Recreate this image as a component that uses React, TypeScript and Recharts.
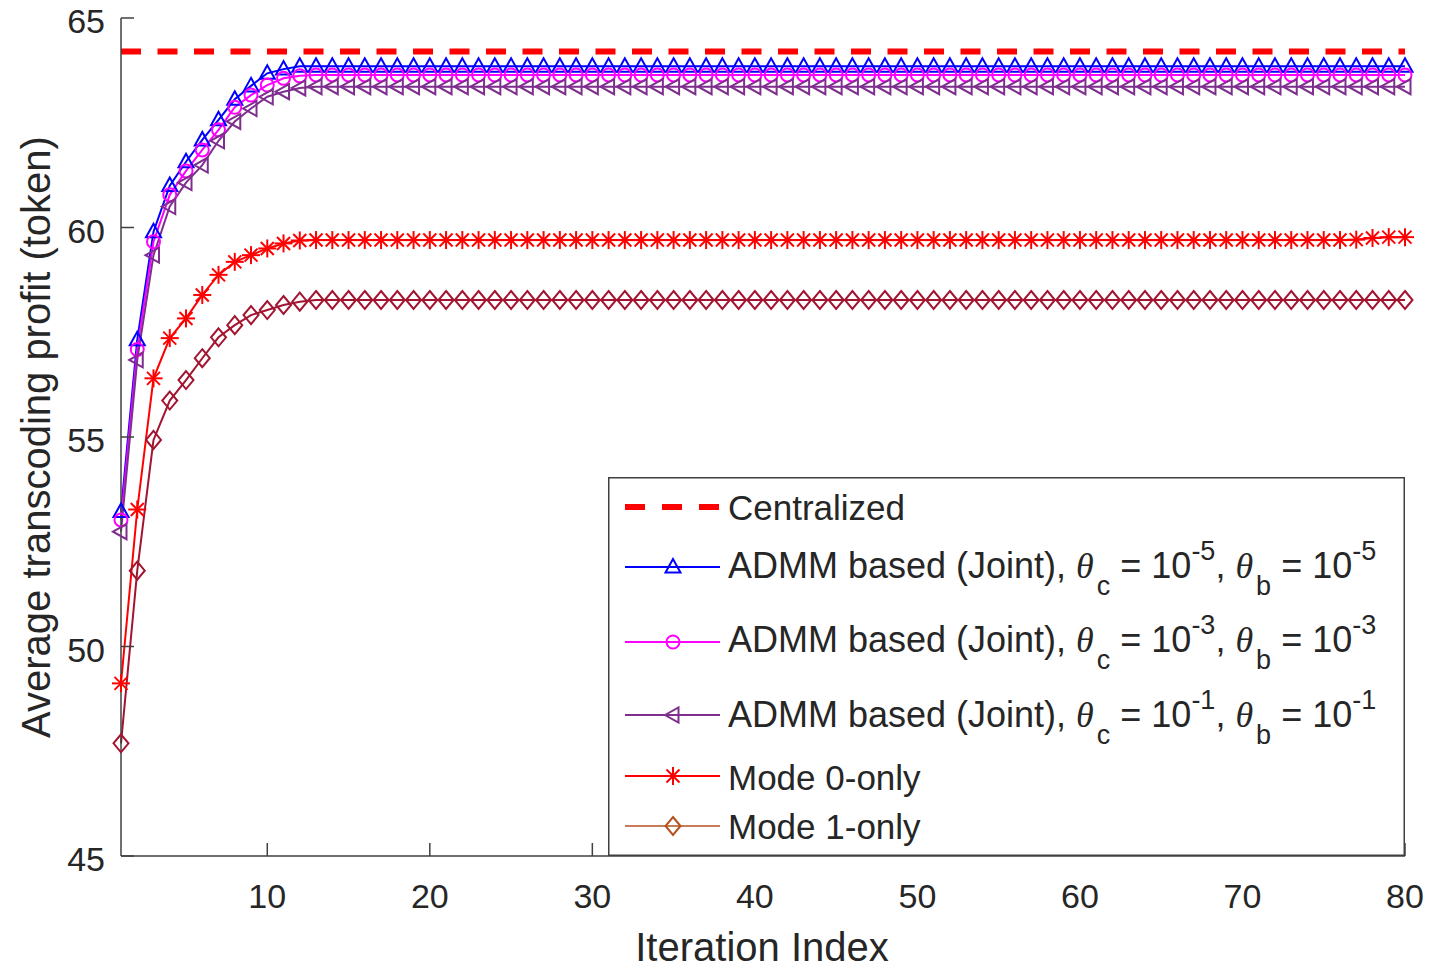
import React from 'react'
import { LineChart, Line, XAxis, YAxis, ReferenceLine, Legend } from 'recharts'

const iterations = [
  1, 2, 3, 4, 5, 6, 7, 8, 9, 10,
  11, 12, 13, 14, 15, 16, 17, 18, 19, 20,
  21, 22, 23, 24, 25, 26, 27, 28, 29, 30,
  31, 32, 33, 34, 35, 36, 37, 38, 39, 40,
  41, 42, 43, 44, 45, 46, 47, 48, 49, 50,
  51, 52, 53, 54, 55, 56, 57, 58, 59, 60,
  61, 62, 63, 64, 65, 66, 67, 68, 69, 70,
  71, 72, 73, 74, 75, 76, 77, 78, 79, 80,
]

const centralized = 64.2

const admm5 = [
  53.22, 57.32, 59.9, 61.0, 61.57, 62.09, 62.57, 63.06, 63.38, 63.68,
  63.78, 63.85, 63.85, 63.85, 63.85, 63.85, 63.85, 63.85, 63.85, 63.85,
  63.85, 63.85, 63.85, 63.85, 63.85, 63.85, 63.85, 63.85, 63.85, 63.85,
  63.85, 63.85, 63.85, 63.85, 63.85, 63.85, 63.85, 63.85, 63.85, 63.85,
  63.85, 63.85, 63.85, 63.85, 63.85, 63.85, 63.85, 63.85, 63.85, 63.85,
  63.85, 63.85, 63.85, 63.85, 63.85, 63.85, 63.85, 63.85, 63.85, 63.85,
  63.85, 63.85, 63.85, 63.85, 63.85, 63.85, 63.85, 63.85, 63.85, 63.85,
  63.85, 63.85, 63.85, 63.85, 63.85, 63.85, 63.85, 63.85, 63.85, 63.85,
]

const admm3 = [
  53.02, 57.09, 59.66, 60.78, 61.35, 61.85, 62.33, 62.87, 63.16, 63.4,
  63.56, 63.62, 63.64, 63.64, 63.64, 63.64, 63.64, 63.64, 63.64, 63.64,
  63.64, 63.64, 63.64, 63.64, 63.64, 63.64, 63.64, 63.64, 63.64, 63.64,
  63.64, 63.64, 63.64, 63.64, 63.64, 63.64, 63.64, 63.64, 63.64, 63.64,
  63.64, 63.64, 63.64, 63.64, 63.64, 63.64, 63.64, 63.64, 63.64, 63.64,
  63.64, 63.64, 63.64, 63.64, 63.64, 63.64, 63.64, 63.64, 63.64, 63.64,
  63.64, 63.64, 63.64, 63.64, 63.64, 63.64, 63.64, 63.64, 63.64, 63.64,
  63.64, 63.64, 63.64, 63.64, 63.64, 63.64, 63.64, 63.64, 63.64, 63.64,
]

const admm1 = [
  52.74, 56.84, 59.34, 60.5, 61.07, 61.49, 62.07, 62.53, 62.84, 63.12,
  63.24, 63.33, 63.36, 63.36, 63.36, 63.36, 63.36, 63.36, 63.36, 63.36,
  63.36, 63.36, 63.36, 63.36, 63.36, 63.36, 63.36, 63.36, 63.36, 63.36,
  63.36, 63.36, 63.36, 63.36, 63.36, 63.36, 63.36, 63.36, 63.36, 63.36,
  63.36, 63.36, 63.36, 63.36, 63.36, 63.36, 63.36, 63.36, 63.36, 63.36,
  63.36, 63.36, 63.36, 63.36, 63.36, 63.36, 63.36, 63.36, 63.36, 63.36,
  63.36, 63.36, 63.36, 63.36, 63.36, 63.36, 63.36, 63.36, 63.36, 63.36,
  63.36, 63.36, 63.36, 63.36, 63.36, 63.36, 63.36, 63.36, 63.36, 63.36,
]

const mode0 = [
  49.12, 53.27, 56.4, 57.36, 57.83, 58.39, 58.87, 59.18, 59.34, 59.5,
  59.62, 59.69, 59.7, 59.7, 59.7, 59.7, 59.7, 59.7, 59.7, 59.7,
  59.7, 59.7, 59.7, 59.7, 59.7, 59.7, 59.7, 59.7, 59.7, 59.7,
  59.7, 59.7, 59.7, 59.7, 59.7, 59.7, 59.7, 59.7, 59.7, 59.7,
  59.7, 59.7, 59.7, 59.7, 59.7, 59.7, 59.7, 59.7, 59.7, 59.7,
  59.7, 59.7, 59.7, 59.7, 59.7, 59.7, 59.7, 59.7, 59.7, 59.7,
  59.7, 59.7, 59.7, 59.7, 59.7, 59.7, 59.7, 59.7, 59.7, 59.7,
  59.7, 59.7, 59.7, 59.7, 59.7, 59.7, 59.71, 59.75, 59.77, 59.77,
]

const mode1 = [
  47.69, 51.81, 54.93, 55.87, 56.36, 56.88, 57.38, 57.67, 57.91, 58.03,
  58.15, 58.23, 58.27, 58.27, 58.27, 58.27, 58.27, 58.27, 58.27, 58.27,
  58.27, 58.27, 58.27, 58.27, 58.27, 58.27, 58.27, 58.27, 58.27, 58.27,
  58.27, 58.27, 58.27, 58.27, 58.27, 58.27, 58.27, 58.27, 58.27, 58.27,
  58.27, 58.27, 58.27, 58.27, 58.27, 58.27, 58.27, 58.27, 58.27, 58.27,
  58.27, 58.27, 58.27, 58.27, 58.27, 58.27, 58.27, 58.27, 58.27, 58.27,
  58.27, 58.27, 58.27, 58.27, 58.27, 58.27, 58.27, 58.27, 58.27, 58.27,
  58.27, 58.27, 58.27, 58.27, 58.27, 58.27, 58.27, 58.27, 58.27, 58.27,
]

const xTicks = [10, 20, 30, 40, 50, 60, 70, 80]
const yTicks = [45, 50, 55, 60, 65]

const data = iterations.map((it, i) => ({
  it,
  admm5: admm5[i],
  admm3: admm3[i],
  admm1: admm1[i],
  mode0: mode0[i],
  mode1: mode1[i],
}))

const FONT = '"Liberation Sans", Arial, Helvetica, sans-serif'
const INK = '#262626'
const AXIS = '#404040'

const BLUE = '#0000FF'
const MAGENTA = '#FF00FF'
const PURPLE = '#7E2F8E'
const RED = '#FF0000'
const CRIMSON = '#A2142F'
const BROWN = '#B5501F'

// marker shapes, MATLAB style
function triUp(cx: number, cy: number, color: string, key?: any) {
  return (
    <polygon key={key} points={`${cx},${cy - 8} ${cx - 7.5},${cy + 5.5} ${cx + 7.5},${cy + 5.5}`}
      fill="none" stroke={color} strokeWidth={2} />
  )
}
function circ(cx: number, cy: number, color: string, key?: any) {
  return <circle key={key} cx={cx} cy={cy} r={6.5} fill="none" stroke={color} strokeWidth={2} />
}
function triLeft(cx: number, cy: number, color: string, key?: any) {
  return (
    <polygon key={key} points={`${cx - 8},${cy} ${cx + 5.5},${cy - 7.5} ${cx + 5.5},${cy + 7.5}`}
      fill="none" stroke={color} strokeWidth={2} />
  )
}
function star(cx: number, cy: number, color: string, key?: any) {
  const r = 9
  const d = 6.5
  return (
    <g key={key} stroke={color} strokeWidth={2}>
      <line x1={cx} y1={cy - r} x2={cx} y2={cy + r} />
      <line x1={cx - r} y1={cy} x2={cx + r} y2={cy} />
      <line x1={cx - d} y1={cy - d} x2={cx + d} y2={cy + d} />
      <line x1={cx - d} y1={cy + d} x2={cx + d} y2={cy - d} />
    </g>
  )
}
function diamond(cx: number, cy: number, color: string, key?: any) {
  return (
    <polygon key={key} points={`${cx},${cy - 9} ${cx + 7.5},${cy} ${cx},${cy + 9} ${cx - 7.5},${cy}`}
      fill="none" stroke={color} strokeWidth={2} />
  )
}

const dotOf = (shape: typeof circ, color: string) => (props: any) => {
  const { cx, cy, index } = props
  if (cx == null || cy == null) return <g key={`e-${index}`} />
  return shape(cx, cy, color, `d-${index}`)
}

const noTick = () => <g />

function YLabel() {
  return (
    <text x={50} y={437} transform="rotate(-90, 50, 437)" textAnchor="middle"
      fontFamily={FONT} fontSize={40} fill={INK}>
      Average transcoding profit (token)
    </text>
  )
}

function XLabel() {
  return (
    <text x={762} y={961} textAnchor="middle" fontFamily={FONT} fontSize={40} fill={INK}>
      Iteration Index
    </text>
  )
}

function ThetaText({ x, y, exp }: { x: number; y: number; exp: string }) {
  return (
    <text x={x} y={y} fontFamily={FONT} fontSize={36} fill={INK}>
      <tspan>ADMM based (Joint), </tspan>
      <tspan fontFamily='"Liberation Serif", serif' fontStyle="italic">θ</tspan>
      <tspan fontSize={27} dy={17} dx={3}>c</tspan>
      <tspan dy={-17}> = 10</tspan>
      <tspan fontSize={27} dy={-18}>{exp}</tspan>
      <tspan dy={18}>, </tspan>
      <tspan fontFamily='"Liberation Serif", serif' fontStyle="italic">θ</tspan>
      <tspan fontSize={27} dy={17} dx={3}>b</tspan>
      <tspan dy={-17}> = 10</tspan>
      <tspan fontSize={27} dy={-18}>{exp}</tspan>
    </text>
  )
}

function LegendBox() {
  const x1 = 17
  const x2 = 112
  const mx = 65
  const tx = 120
  return (
    <svg width={797} height={379} style={{ display: 'block' }}>
      <rect x={0.75} y={0.75} width={795.5} height={377.5} fill="#fff" stroke={AXIS} strokeWidth={1.5} />
      <line x1={x1} y1={30} x2={x2} y2={30} stroke={RED} strokeWidth={6} strokeDasharray="20 17" />
      <text x={tx} y={43} fontFamily={FONT} fontSize={35} fill={INK}>Centralized</text>

      <line x1={x1} y1={90} x2={x2} y2={90} stroke={BLUE} strokeWidth={2} />
      {triUp(mx, 90, BLUE)}
      <ThetaText x={tx} y={101} exp="-5" />

      <line x1={x1} y1={165} x2={x2} y2={165} stroke={MAGENTA} strokeWidth={2} />
      {circ(mx, 165, MAGENTA)}
      <ThetaText x={tx} y={175} exp="-3" />

      <line x1={x1} y1={238} x2={x2} y2={238} stroke={PURPLE} strokeWidth={2} />
      {triLeft(mx, 238, PURPLE)}
      <ThetaText x={tx} y={250} exp="-1" />

      <line x1={x1} y1={299} x2={x2} y2={299} stroke={RED} strokeWidth={2} />
      {star(mx, 299, RED)}
      <text x={tx} y={313} fontFamily={FONT} fontSize={35} fill={INK}>Mode 0-only</text>

      <line x1={x1} y1={349} x2={x2} y2={349} stroke={BROWN} strokeWidth={1.5} />
      {diamond(mx, 349, BROWN)}
      <text x={tx} y={362} fontFamily={FONT} fontSize={35} fill={INK}>Mode 1-only</text>
    </svg>
  )
}

export default function App() {
  return (
    <div style={{ position: 'absolute', left: 0, top: 0, background: '#fff' }}>
      <LineChart width={1450} height={968} data={data}
        margin={{ top: 18, right: 45, left: 41, bottom: 52 }}>
        <XAxis dataKey="it" type="number" domain={[1, 80]} ticks={xTicks} interval={0}
          height={60} tickSize={-13} tickMargin={41}
          axisLine={{ stroke: AXIS, strokeWidth: 1.5 }} tickLine={{ stroke: AXIS, strokeWidth: 1.5 }}
          tick={{ fill: INK, fontSize: 34, fontFamily: FONT }} label={XLabel} />
        <XAxis xAxisId="top" orientation="top" dataKey="it" type="number" domain={[1, 80]}
          ticks={xTicks} interval={0} allowDataOverflow height={0} tickSize={-13}
          axisLine={{ stroke: AXIS, strokeWidth: 1.5 }} tickLine={{ stroke: AXIS, strokeWidth: 1.5 }}
          tick={noTick} />
        <YAxis type="number" domain={[45, 65]} ticks={yTicks} interval={0}
          width={80} tickSize={-13} tickMargin={29}
          axisLine={{ stroke: AXIS, strokeWidth: 1.5 }} tickLine={{ stroke: AXIS, strokeWidth: 1.5 }}
          tick={{ fill: INK, fontSize: 34, fontFamily: FONT, dy: 3 }} label={YLabel} />
        <YAxis yAxisId="right" orientation="right" type="number" domain={[45, 65]} ticks={yTicks}
          interval={0} allowDataOverflow width={0} tickSize={-13}
          axisLine={{ stroke: AXIS, strokeWidth: 1.5 }} tickLine={{ stroke: AXIS, strokeWidth: 1.5 }}
          tick={noTick} />

        <ReferenceLine y={centralized} stroke={RED} strokeWidth={6} strokeDasharray="20 16.5" />

        <Line dataKey="admm5" stroke={BLUE} strokeWidth={2} dot={dotOf(triUp, BLUE)}
          activeDot={false} isAnimationActive={false} />
        <Line dataKey="admm3" stroke={MAGENTA} strokeWidth={2} dot={dotOf(circ, MAGENTA)}
          activeDot={false} isAnimationActive={false} />
        <Line dataKey="admm1" stroke={PURPLE} strokeWidth={2} dot={dotOf(triLeft, PURPLE)}
          activeDot={false} isAnimationActive={false} />
        <Line dataKey="mode0" stroke={RED} strokeWidth={2} dot={dotOf(star, RED)}
          activeDot={false} isAnimationActive={false} />
        <Line dataKey="mode1" stroke={CRIMSON} strokeWidth={2} dot={dotOf(diamond, CRIMSON)}
          activeDot={false} isAnimationActive={false} />

        <Legend layout="horizontal" verticalAlign="middle" align="center"
          wrapperStyle={{ left: 608, top: 477, width: 797, height: 379 }} content={LegendBox} />
      </LineChart>
    </div>
  )
}
